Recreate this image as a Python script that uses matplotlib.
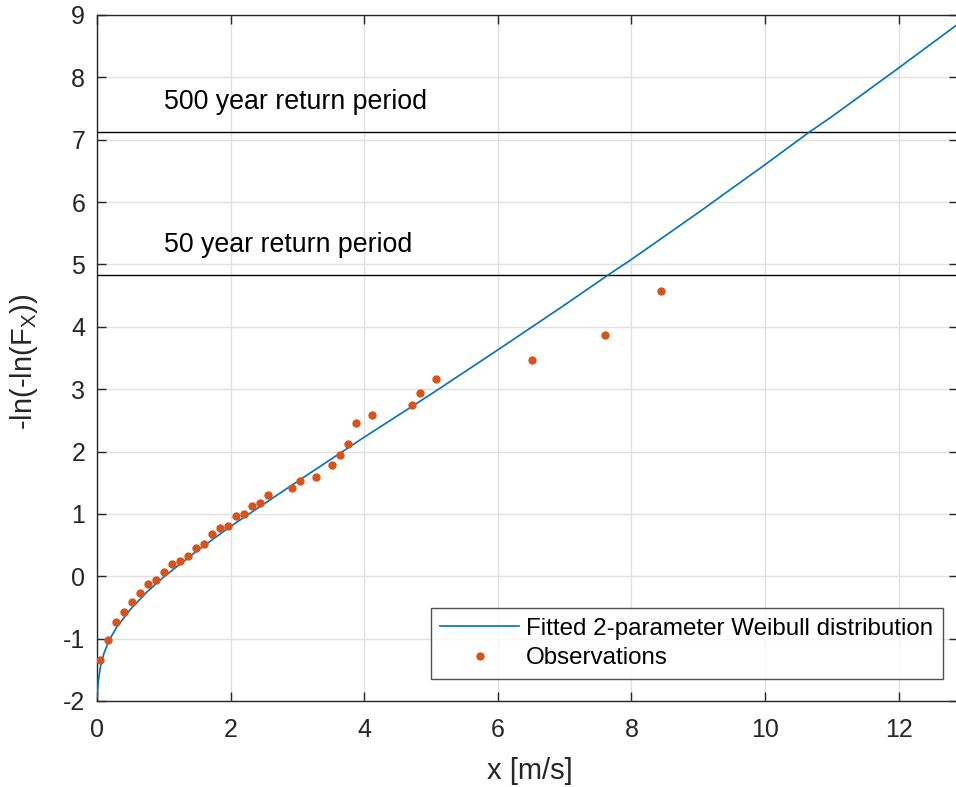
import matplotlib
matplotlib.use("Agg")
import matplotlib.pyplot as plt

plt.rcParams['font.family'] = ['Liberation Sans', 'DejaVu Sans']
plt.rcParams['mathtext.default'] = 'regular'
plt.rcParams['axes.unicode_minus'] = False

# Fitted Weibull curve
curve_x = [0.005, 0.01, 0.02, 0.05, 0.1, 0.165, 0.2, 0.3, 0.5, 0.75, 1.0, 1.5, 2.0, 2.5, 3.0,
           4.0, 5.0, 6.0, 7.0, 7.65, 8.0, 9.0, 10.0, 10.66, 11.0, 12.0, 12.87]
curve_y = [-1.94, -1.82, -1.68, -1.46, -1.25, -1.07, -0.99, -0.81, -0.53, -0.25, -0.01, 0.41, 0.80, 1.16, 1.52,
           2.23, 2.92, 3.63, 4.35, 4.83, 5.08, 5.83, 6.60, 7.12, 7.37, 8.15, 8.84]

# Observations
obs_x = [0.045, 0.165, 0.284, 0.404, 0.524, 0.644, 0.763, 0.883, 1.003, 1.123, 1.243, 1.362,
         1.482, 1.602, 1.722, 1.841, 1.961, 2.081, 2.201, 2.320, 2.440, 2.560, 2.919, 3.039,
         3.278, 3.518, 3.638, 3.757, 3.877, 4.117, 4.716, 4.835, 5.075, 6.517, 7.600, 8.438]
obs_y = [-1.35, -1.02, -0.73, -0.58, -0.42, -0.27, -0.12, -0.06, 0.07, 0.19, 0.25, 0.33,
         0.45, 0.51, 0.67, 0.77, 0.81, 0.96, 1.00, 1.13, 1.17, 1.31, 1.42, 1.52,
         1.59, 1.78, 1.94, 2.12, 2.45, 2.59, 2.75, 2.94, 3.16, 3.46, 3.87, 4.57]

rp_levels = [4.83, 7.13]
rp_labels = ['50 year return period', '500 year return period']
rp_label_y = [5.31, 7.60]

W, H = 956, 787
fig = plt.figure(figsize=(W/100, H/100), dpi=100)
left, right, bottom, top = 97, 958, 701, 15
ax = fig.add_axes([left/W, 1-bottom/H, (right-left)/W, (bottom-top)/H])

dark = (0.15, 0.15, 0.15)
blue = (0.0, 0.447, 0.741)
orange = (0.85, 0.325, 0.098)

ax.plot(curve_x, curve_y, color=blue, lw=1.2, label='Fitted 2-parameter Weibull distribution', zorder=3)
ax.plot(obs_x, obs_y, ls='none', marker='o', ms=5, color=orange, label='Observations', zorder=4)

for lvl, lab, ly in zip(rp_levels, rp_labels, rp_label_y):
    ax.axhline(lvl, color='black', lw=1.0, zorder=2)
    ax.text(1.0, ly, lab, fontsize=19.3, va='center', ha='left', color='black')

ax.set_xlim(0, (right-left)/66.8)
ax.set_ylim(-2, 9)
ax.set_xticks(range(0, 13, 2))
ax.set_yticks(range(-2, 10))
ax.grid(True, color=(0.88, 0.88, 0.88), lw=1.0)
ax.set_axisbelow(True)
ax.tick_params(direction='in', top=True, right=True, labelsize=18, colors=dark, length=6.5, width=1)
ax.tick_params(axis='x', pad=12)
ax.tick_params(axis='y', pad=8.5)
for s in ax.spines.values():
    s.set_color(dark)
    s.set_linewidth(1.0)
ax.spines['right'].set_visible(False)

xl = ax.set_xlabel('x [m/s]', fontsize=21, color=dark)
ax.xaxis.set_label_coords((530-left)/(right-left), (bottom-771)/(bottom-top))
xl.set_va('center')
yl = ax.set_ylabel('-ln(-ln(F$_X$))', fontsize=21, color=dark)
ax.yaxis.set_label_coords((24-left)/(right-left), 0.495)
yl.set_va('center')

leg = ax.legend(loc='lower right', fontsize=17.4, frameon=True, fancybox=False, edgecolor=dark,
                borderpad=0.4, handlelength=3.25, labelspacing=0.32, handletextpad=0.3,
                borderaxespad=0)
leg.set_bbox_to_anchor((943/W, 1-679/H), transform=fig.transFigure)
leg.get_frame().set_linewidth(1.0)

fig.savefig('out.png', dpi=100)
